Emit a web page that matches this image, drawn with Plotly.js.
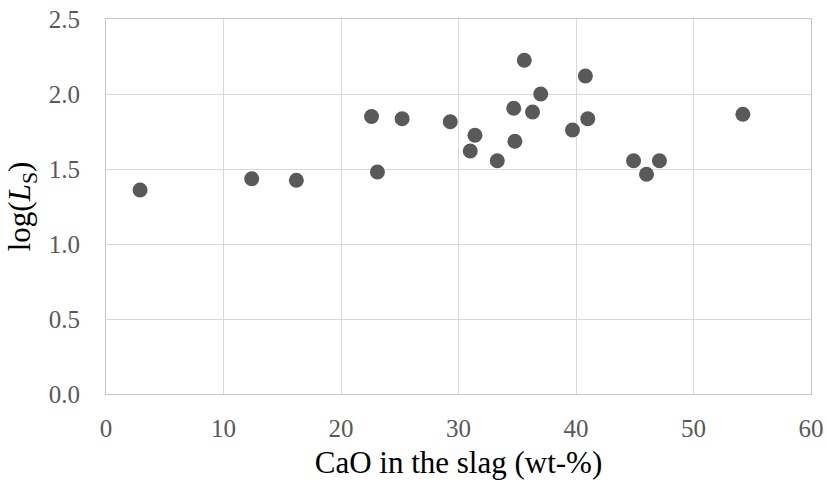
<!DOCTYPE html>
<html>
<head>
<meta charset="utf-8">
<script src="https://cdn.plot.ly/plotly-3.0.1.min.js"></script>
<style>html,body{margin:0;padding:0;background:#fff;}#chart{width:827px;height:487px;}</style>
</head>
<body>
<div id="chart"></div>
<script>
const cao = [2.9, 12.4, 16.2, 22.6, 23.1, 25.2, 29.3, 31.0, 31.4, 33.3, 34.7, 34.8, 35.6, 36.3, 37.0, 39.7, 40.8, 41.0, 44.9, 46.0, 47.1, 54.2];
const logLs = [1.36, 1.435, 1.425, 1.85, 1.48, 1.835, 1.815, 1.62, 1.725, 1.555, 1.905, 1.685, 2.225, 1.88, 2.0, 1.76, 2.12, 1.835, 1.555, 1.465, 1.555, 1.865];
const xTicks = [0, 10, 20, 30, 40, 50, 60];
const yTicks = [0, 0.5, 1.0, 1.5, 2.0, 2.5];

const trace = {
  x: cao, y: logLs, type: 'scatter', mode: 'markers',
  marker: {color: '#595959', size: 15, line: {width: 0}},
  hoverinfo: 'skip'
};

const serif = 'Liberation Serif';
const tickFont = {family: serif, size: 25, color: '#595959'};
const titleFont = {family: serif, size: 31, color: '#000000'};

const layout = {
  width: 827, height: 487,
  margin: {l: 106, r: 16, t: 19, b: 93},
  paper_bgcolor: '#ffffff', plot_bgcolor: '#ffffff',
  font: {family: serif},
  showlegend: false,
  xaxis: {
    range: [0, 60], tickvals: xTicks, ticktext: xTicks.map(v => String(v)),
    showgrid: true, gridcolor: '#d9d9d9', gridwidth: 1,
    zeroline: false, showline: true, linecolor: '#c8c8c8', linewidth: 1, mirror: true,
    ticks: 'outside', ticklen: 12, tickcolor: 'rgba(0,0,0,0)',
    tickfont: tickFont,
    title: {text: 'CaO in the slag (wt-%)', font: titleFont, standoff: 10}
  },
  yaxis: {
    range: [0, 2.5], tickvals: yTicks, ticktext: yTicks.map(v => v.toFixed(1)),
    showgrid: true, gridcolor: '#d9d9d9', gridwidth: 1,
    zeroline: false, showline: true, linecolor: '#c8c8c8', linewidth: 1, mirror: true,
    ticks: 'outside', ticklen: 20, tickcolor: 'rgba(0,0,0,0)',
    tickfont: tickFont,
    title: {text: 'log(<i>L</i><sub>S</sub>)', font: titleFont, standoff: 8}
  }
};

Plotly.newPlot('chart', [trace], layout, {staticPlot: true, displayModeBar: false});
</script>
</body>
</html>
